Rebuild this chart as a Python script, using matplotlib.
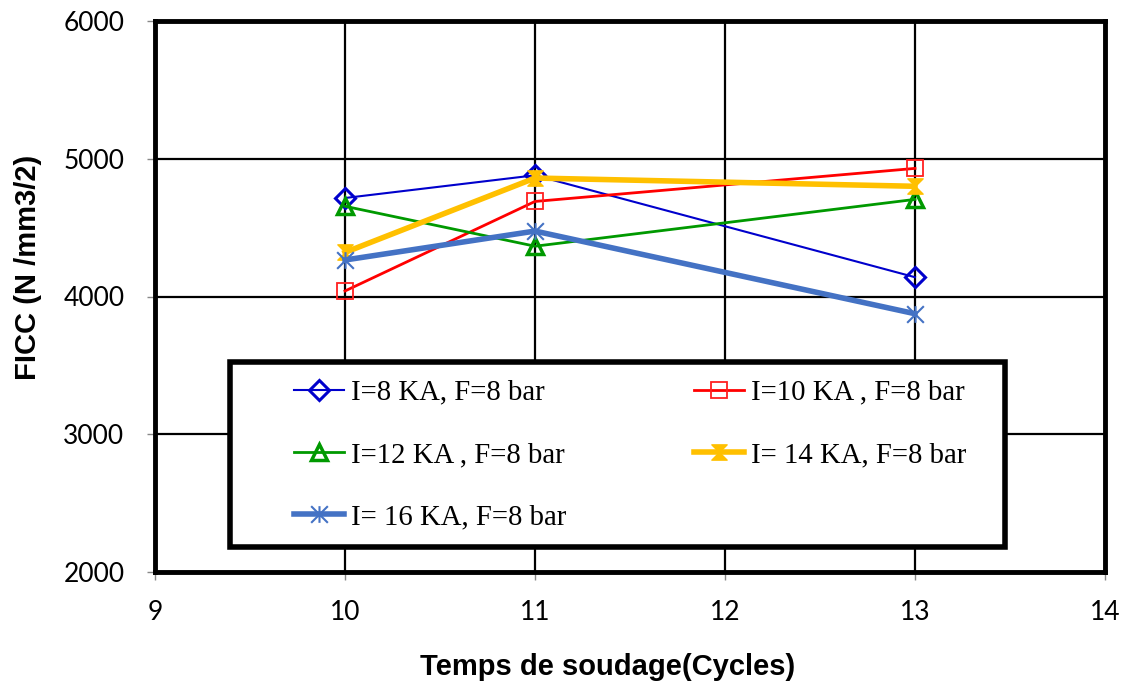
import matplotlib
matplotlib.use('Agg')
import matplotlib.pyplot as plt
from matplotlib.patches import Rectangle
from matplotlib.path import Path

# data
cycles = [10, 11, 13]
i8_ka = [4715, 4880, 4140]
i10_ka = [4040, 4690, 4930]
i12_ka = [4655, 4365, 4705]
i14_ka = [4320, 4860, 4800]
i16_ka = [4265, 4475, 3875]

labels = ['I=8 KA, F=8 bar', 'I=10 KA , F=8 bar', 'I=12 KA , F=8 bar',
          'I= 14 KA, F=8 bar', 'I= 16 KA, F=8 bar']

x_ticks = [9, 10, 11, 12, 13, 14]
y_ticks = [2000, 3000, 4000, 5000, 6000]

# custom markers: hourglass and excel-like star
hourglass = Path([(-1, 1), (1, 1), (-1, -1), (1, -1), (-1, 1)],
                 [Path.MOVETO, Path.LINETO, Path.LINETO, Path.LINETO, Path.CLOSEPOLY])
star = Path([(0, -1), (0, 1), (-1, -1), (1, 1), (-1, 1), (1, -1)],
            [Path.MOVETO, Path.LINETO, Path.MOVETO, Path.LINETO, Path.MOVETO, Path.LINETO])

fig = plt.figure(figsize=(11.27, 6.88), dpi=100)
ax = fig.add_axes([155 / 1127, 1 - 572 / 688, 950 / 1127, 551 / 688])

h1, = ax.plot(cycles, i8_ka, color='#0000CC', lw=1.5, marker='D', ms=10,
              mfc='none', mec='#0000CC', mew=2.2, label=labels[0], zorder=6)
h2, = ax.plot(cycles, i10_ka, color='#FF0000', lw=2, marker='s', ms=12,
              mfc='none', mec='#FF2020', mew=1.3, label=labels[1], zorder=6)
h3, = ax.plot(cycles, i12_ka, color='#009900', lw=2, marker='^', ms=11,
              mfc='none', mec='#009900', mew=2.5, label=labels[2], zorder=6)
h4, = ax.plot(cycles, i14_ka, color='#FFC000', lw=4, marker=hourglass, ms=11,
              mfc='#FFC000', mec='#FFC000', mew=1, label=labels[3], zorder=6)
h5, = ax.plot(cycles, i16_ka, color='#4472C4', lw=4, marker=star, ms=12,
              mec='#4472C4', mew=1.5, label=labels[4], zorder=6)

ax.set_xlim(9, 14)
ax.set_ylim(2000, 6000)
ax.set_xticks(x_ticks)
ax.set_yticks(y_ticks)
ax.grid(True, color='black', lw=1.6)
ax.set_axisbelow(True)

for s in ax.spines.values():
    s.set_linewidth(3.5)
    s.set_color('black')

ax.tick_params(axis='both', direction='out', length=6, width=1, color='#888888',
               labelsize=19)
ax.tick_params(axis='y', pad=16)
ax.tick_params(axis='x', pad=14)
for t in ax.get_xticklabels() + ax.get_yticklabels():
    t.set_fontfamily('Lato')

ax.set_xlabel('Temps de soudage(Cycles)', fontsize=21, fontweight='bold',
              family='Liberation Sans')
ax.set_ylabel('FICC (N /mm3/2)', fontsize=21, fontweight='bold',
              family='Liberation Sans')
ax.xaxis.set_label_coords(0.476, -0.172)
ax.yaxis.set_label_coords(-0.134, 0.553)
ax.xaxis.label.set_va('center')
ax.yaxis.label.set_va('center')

# legend box drawn by hand, legend text placed inside it
ax.add_patch(Rectangle((0.079, 0.045), 0.816, 0.336, transform=ax.transAxes,
                       facecolor='white', edgecolor='black', lw=4, zorder=7))
leg = ax.legend([h1, h3, h5, h2, h4], [labels[0], labels[2], labels[4], labels[1], labels[3]],
                ncol=2, loc='upper left', bbox_to_anchor=(0.146, 0.349), frameon=False,
                borderpad=0, borderaxespad=0, handlelength=1.74, handletextpad=0.25,
                labelspacing=1.26, columnspacing=4.45,
                prop={'family': 'Liberation Serif', 'size': 20.7})
leg.set_zorder(8)

fig.savefig('out.png', dpi=100)
